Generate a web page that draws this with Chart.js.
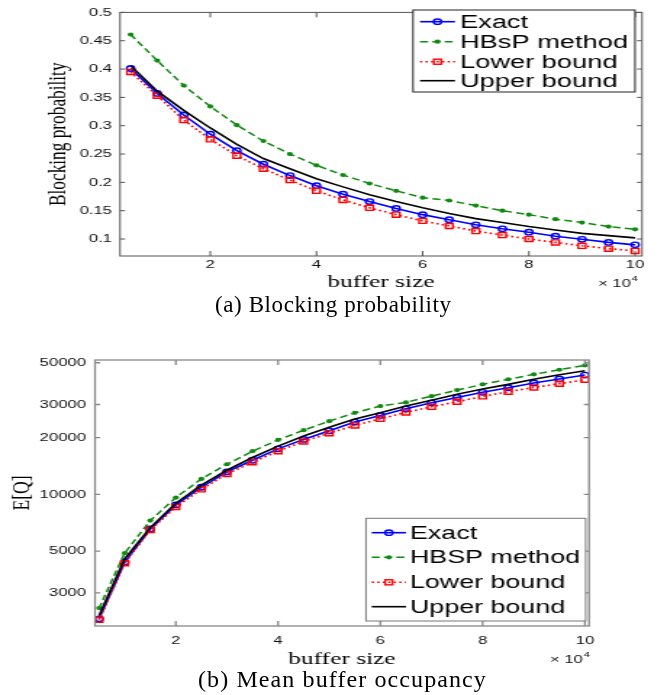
<!DOCTYPE html>
<html><head><meta charset="utf-8">
<script src="https://cdn.jsdelivr.net/npm/chart.js@4/dist/chart.umd.min.js"></script>
<style>
html,body{margin:0;padding:0;background:#fff;}
body{width:667px;height:695px;position:relative;overflow:hidden;}
.wrap{position:absolute;left:0;transform:scaleX(1.45);transform-origin:0 0;}
#w1{top:0;width:460px;height:300px;}
#w2{top:340px;width:460px;height:330px;}
.cap{position:absolute;font-family:"Liberation Serif",serif;font-size:23px;line-height:23px;color:#000;white-space:nowrap;}
</style></head><body>
<div class="wrap" id="w1"><canvas id="c1" width="460" height="300"></canvas></div>
<div class="wrap" id="w2"><canvas id="c2" width="460" height="330"></canvas></div>
<div class="cap" id="capA" style="left:215px;top:293px;letter-spacing:0.6px;">(a) Blocking probability</div>
<div class="cap" id="capB" style="left:198px;top:668px;font-size:24px;letter-spacing:1.1px;">(b) Mean buffer occupancy</div>
<script>
// ---- data ----
const bufferSize = [0.5,1,1.5,2,2.5,3,3.5,4,4.5,5,5.5,6,6.5,7,7.5,8,8.5,9,9.5,10]; // x 10^4
const xTickValues = [2,4,6,8,10];

const bpExact = [0.401,0.357,0.319,0.285,0.256,0.232,0.212,0.194,0.179,0.166,0.154,0.143,0.134,0.125,0.118,0.112,0.105,0.0995,0.094,0.0897];
const bpHbsp  = [0.461,0.415,0.371,0.334,0.301,0.273,0.250,0.230,0.213,0.198,0.185,0.173,0.168,0.159,0.150,0.143,0.135,0.129,0.122,0.117];
const bpLower = [0.395,0.353,0.310,0.276,0.247,0.224,0.204,0.185,0.169,0.155,0.143,0.132,0.123,0.114,0.107,0.100,0.094,0.088,0.083,0.079];
const bpUpper = [0.406,0.361,0.327,0.296,0.267,0.242,0.224,0.2065,0.192,0.178,0.166,0.155,0.145,0.136,0.129,0.122,0.116,0.110,0.106,0.102];
const bpTickValues = [0.1,0.15,0.2,0.25,0.3,0.35,0.4,0.45,0.5];

const eqExact = [2183,4366,6546,8790,10910,13160,15180,17450,19580,21750,24210,26260,28470,30630,32730,34820,36830,39020,40980,43010];
const eqHbsp  = [2489,4878,7258,9620,12080,14450,16950,19450,21920,24480,27100,29440,30790,33240,35790,38380,40810,43390,45900,48430];
const eqLower = [2157,4313,6471,8570,10640,12840,14820,16950,19100,21140,23230,25190,27240,29180,31030,33140,35060,36990,38660,40600];
const eqUpper = [2277,4547,6660,8980,11200,13430,15700,18030,20400,22700,25100,27100,29440,31620,34040,36220,38380,40810,43140,45290];
const eqTickValues = [3000,5000,10000,20000,30000,50000];

const legendTop = ['Exact','HBsP method','Lower bound','Upper bound'];
const legendBottom = ['Exact','HBSP method','Lower bound','Upper bound'];

// ---- helpers ----
const pts = arr => bufferSize.map((x,i)=>({x:x,y:arr[i]}));
const BLUE='#0000ff', GREEN='#108a10', RED='#ff0000', BLACK='#000000';
function makeDatasets(ex,hb,lo,up,labels){
  return [
    {label:labels[0],data:pts(ex),borderColor:BLUE,borderWidth:1.6,pointStyle:'circle',pointRadius:2.7,pointBorderColor:BLUE,pointBackgroundColor:'rgba(0,0,0,0)',pointBorderWidth:1.4,order:4,mk:'o'},
    {label:labels[1],data:pts(hb),borderColor:GREEN,borderWidth:1.5,borderDash:[5.5,3],pointStyle:'circle',pointRadius:2.1,pointBorderColor:GREEN,pointBackgroundColor:GREEN,pointBorderWidth:0,order:3,mk:'dot'},
    {label:labels[2],data:pts(lo),borderColor:RED,borderWidth:1.6,borderDash:[1.6,2.2],pointStyle:'rect',pointRadius:3.6,pointBorderColor:RED,pointBackgroundColor:'rgba(0,0,0,0)',pointBorderWidth:1.4,order:2,mk:'sq'},
    {label:labels[3],data:pts(up),borderColor:BLACK,borderWidth:1.6,pointRadius:0,order:1,mk:'none'}
  ];
}
function drawMarker(ctx,ds,x,y){
  ctx.save(); ctx.setLineDash([]);
  if(ds.mk==='o'){ctx.strokeStyle=ds.pointBorderColor;ctx.lineWidth=ds.pointBorderWidth;ctx.beginPath();ctx.arc(x,y,ds.pointRadius,0,Math.PI*2);ctx.stroke();}
  else if(ds.mk==='dot'){ctx.fillStyle=ds.pointBackgroundColor;ctx.beginPath();ctx.arc(x,y,ds.pointRadius,0,Math.PI*2);ctx.fill();}
  else if(ds.mk==='sq'){const s=ds.pointRadius/Math.SQRT2;ctx.strokeStyle=ds.pointBorderColor;ctx.lineWidth=ds.pointBorderWidth;ctx.strokeRect(x-s,y-s,2*s,2*s);}
  ctx.restore();
}
function framePlugin(c){
  return {id:'frame'+c.id, afterDraw(chart){
    const ctx=chart.ctx, a=chart.chartArea, xs=chart.scales.x, ys=chart.scales.y;
    ctx.save();
    ctx.strokeStyle=c.axisColor; ctx.lineWidth=c.axisWidth; ctx.setLineDash([]);
    ctx.strokeRect(a.left,a.top,a.right-a.left,a.bottom-a.top);
    ctx.beginPath();
    xTickValues.forEach(v=>{const px=xs.getPixelForValue(v);ctx.moveTo(px,a.bottom);ctx.lineTo(px,a.bottom-5);ctx.moveTo(px,a.top);ctx.lineTo(px,a.top+5);});
    c.yTicks.forEach(v=>{const py=ys.getPixelForValue(v);ctx.moveTo(a.left,py);ctx.lineTo(a.left+3.5,py);ctx.moveTo(a.right,py);ctx.lineTo(a.right-3.5,py);});
    ctx.stroke();
    // axis titles
    ctx.fillStyle='#000';
    ctx.font='17.5px "Liberation Serif"'; ctx.textAlign='center'; ctx.textBaseline='alphabetic';
    ctx.fillText('buffer size',(a.left+a.right)/2,c.xTitleY);
    ctx.save(); ctx.translate(c.yTitleX,(a.top+a.bottom)/2); ctx.rotate(-Math.PI/2);
    ctx.textBaseline='middle'; ctx.font=c.yTitleFont; ctx.fillText(c.yTitle,0,0); ctx.restore();
    // x 10^4
    ctx.textAlign='left'; ctx.font='11.5px "Liberation Sans"'; ctx.fillStyle='#111';
    ctx.fillText('\u00d7 10',c.expX,c.expY);
    const w=ctx.measureText('\u00d7 10').width;
    ctx.font='8px "Liberation Sans"'; ctx.fillText('4',c.expX+w+0.5,c.expY-6);
    // legend
    const L=c.legend;
    ctx.fillStyle='#fff'; ctx.fillRect(L.x0,L.y0,L.x1-L.x0,L.y1-L.y0);
    ctx.strokeStyle=L.border; ctx.lineWidth=1; ctx.strokeRect(L.x0,L.y0,L.x1-L.x0,L.y1-L.y0);
    chart.data.datasets.forEach((ds,i)=>{
      const y=L.rows[i];
      ctx.save(); ctx.strokeStyle=ds.borderColor; ctx.lineWidth=ds.borderWidth; ctx.setLineDash(ds.borderDash||[]);
      ctx.beginPath(); ctx.moveTo(L.s0,y); ctx.lineTo(L.s1,y); ctx.stroke(); ctx.restore();
      drawMarker(ctx,ds,(L.s0+L.s1)/2,y);
      ctx.fillStyle='#000'; ctx.font=L.font; ctx.textAlign='left'; ctx.textBaseline='middle';
      ctx.fillText(ds.label,L.tx,y+1);
    });
    ctx.restore();
  }};
}
function fixed(size){return function(s){ if(s.isHorizontal()) s.height=size; else s.width=size; };}
function baseOpts(c){
  return {
    responsive:false, animation:false, events:[],
    layout:{padding:c.pad},
    plugins:{legend:{display:false},tooltip:{enabled:false}},
    elements:{line:{tension:0,fill:false}},
    scales:{
      x:{type:'linear',min:c.xmin,max:c.xmax,
         grid:{display:false,drawTicks:false},border:{display:false},
         afterBuildTicks:ax=>{ax.ticks=xTickValues.map(v=>({value:v}));},
         afterFit:fixed(c.xH),
         ticks:{padding:c.xPad,maxRotation:0,autoSkip:false,color:'#111',font:{family:'"Liberation Sans"',size:11.5},callback:v=>String(v)}},
      y:{type:c.yType,min:c.ymin,max:c.ymax,
         grid:{display:false,drawTicks:false},border:{display:false},
         afterBuildTicks:ax=>{ax.ticks=c.yTicks.map(v=>({value:v}));},
         afterFit:fixed(c.yW),
         ticks:{padding:c.yPad,autoSkip:false,color:'#111',font:{family:'"Liberation Sans"',size:11.5},callback:v=>String(v)}}
    }
  };
}
const S=1.45;
const cfg1={id:1,pad:{left:0,right:460-642/S,top:7,bottom:0},xmin:0.3,xmax:10.13,ymin:0.07,ymax:0.5,yType:'linear',
  yTicks:bpTickValues,xH:44,yW:120/S,xPad:2,yPad:5.5,axisColor:'#555',axisWidth:1,
  xTitleY:287,yTitleX:40.3,yTitle:'Blocking probability',yTitleFont:'17.3px "Liberation Serif"',
  expX:598/S,expY:287,
  legend:{x0:413/S,x1:635/S,y0:10,y1:92,s0:420/S,s1:455/S,tx:460/S,rows:[21.7,41.7,61.7,80.7],font:'18.8px "Liberation Sans"',border:'#222'}};
const cfg2={id:2,pad:{left:0,right:460-589/S,top:20,bottom:0},xmin:0.42,xmax:10.08,ymin:2000,ymax:51700,yType:'logarithmic',
  yTicks:eqTickValues,xH:44,yW:95/S,xPad:8,yPad:6.2,axisColor:'#888',axisWidth:1.3,
  xTitleY:324,yTitleX:15,yTitle:'E[Q]',yTitleFont:'17.5px "Liberation Serif"',
  expX:550/S,expY:323,
  legend:{x0:366/S,x1:585.7/S,y0:178.3,y1:281,s0:371.7/S,s1:406/S,tx:410/S,rows:[192.7,217.3,242.3,266.7],font:'18.5px "Liberation Sans"',border:'#777'}};

new Chart(document.getElementById('c1'),{type:'line',data:{datasets:makeDatasets(bpExact,bpHbsp,bpLower,bpUpper,legendTop)},options:baseOpts(cfg1),plugins:[framePlugin(cfg1)]});
new Chart(document.getElementById('c2'),{type:'line',data:{datasets:makeDatasets(eqExact,eqHbsp,eqLower,eqUpper,legendBottom)},options:baseOpts(cfg2),plugins:[framePlugin(cfg2)]});
</script>
</body></html>
